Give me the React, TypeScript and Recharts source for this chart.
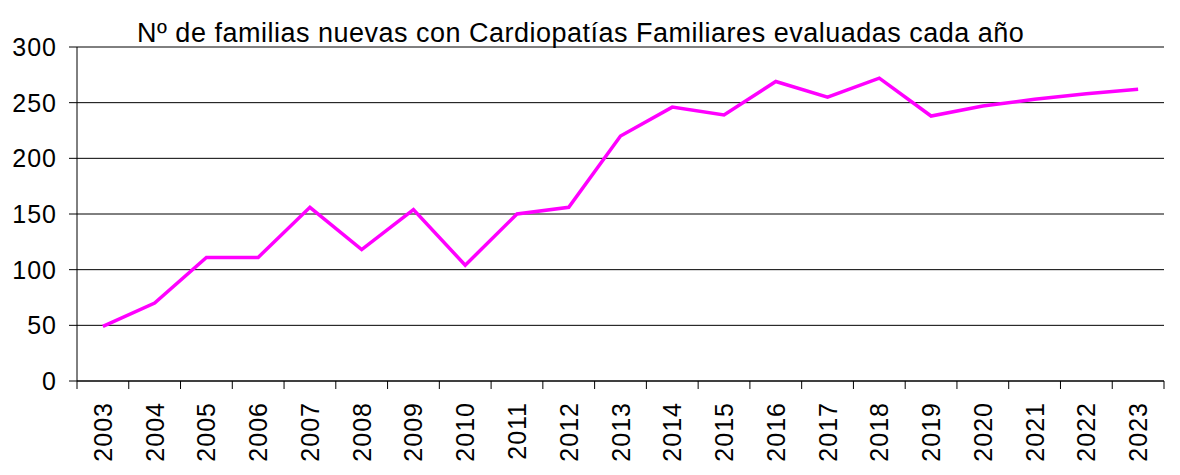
import React from "react";
import { LineChart, Line, XAxis, YAxis, CartesianGrid } from "recharts";

const years = [
  "2003", "2004", "2005", "2006", "2007", "2008", "2009", "2010", "2011", "2012", "2013",
  "2014", "2015", "2016", "2017", "2018", "2019", "2020", "2021", "2022", "2023",
];
const families = [49, 70, 111, 111, 156, 118, 154, 104, 150, 156, 220, 246, 239, 269, 255, 272, 238, 247, 253, 258, 262];
const yTicks = [0, 50, 100, 150, 200, 250, 300];

const title = "Nº de familias nuevas con Cardiopatías Familiares evaluadas cada año";

const data = years.map((year, i) => ({ year, value: families[i] }));

const FONT = "Arial, 'Liberation Sans', sans-serif";

// label at band centre, tick marks at band edges (like Excel)
const YearTick = (props: any) => {
  const { x, y, payload, index } = props;
  const half = payload.offset || 0;
  const last = index === years.length - 1;
  return (
    <g>
      <line x1={x - half} y1={y - 8} x2={x - half} y2={y} stroke="#000" />
      {last && <line x1={x + half} y1={y - 8} x2={x + half} y2={y} stroke="#000" />}
      <text
        x={0}
        y={0}
        transform={`translate(${x + 9},${y + 13}) rotate(-90)`}
        textAnchor="end"
        fontSize={25}
        letterSpacing={1}
        fontFamily={FONT}
        fill="#000"
      >
        {payload.value}
      </text>
    </g>
  );
};

const App = () => {
  return (
    <div style={{ position: "absolute", left: 0, top: 0, width: 1180, height: 475, background: "#fff" }}>
      <LineChart
        width={1180}
        height={475}
        data={data}
        margin={{ top: 47, right: 16, bottom: 0, left: 0 }}
      >
        <CartesianGrid vertical={false} stroke="#000" strokeDasharray="" />
        <XAxis
          dataKey="year"
          scale="band"
          interval={0}
          height={94}
          tickSize={8}
          tickMargin={0}
          tickLine={false}
          axisLine={{ stroke: "#000" }}
          tick={<YearTick />}
        />
        <YAxis
          width={77}
          domain={[0, 300]}
          ticks={yTicks}
          interval={0}
          tickSize={8}
          tickMargin={12}
          axisLine={{ stroke: "#000" }}
          tickLine={{ stroke: "#000" }}
          tick={{ fill: "#000", fontSize: 25, fontFamily: FONT, letterSpacing: 1 }}
        />
        <Line
          type="linear"
          dataKey="value"
          stroke="#FF00FF"
          strokeWidth={3.5}
          dot={false}
          activeDot={false}
          isAnimationActive={false}
        />
      </LineChart>
      <svg width={1180} height={60} style={{ position: "absolute", left: 0, top: 0 }}>
        <text x={137} y={41.5} fontSize={27} letterSpacing={0.5} fontFamily={FONT} fill="#000">
          {title}
        </text>
      </svg>
    </div>
  );
};

export default App;
